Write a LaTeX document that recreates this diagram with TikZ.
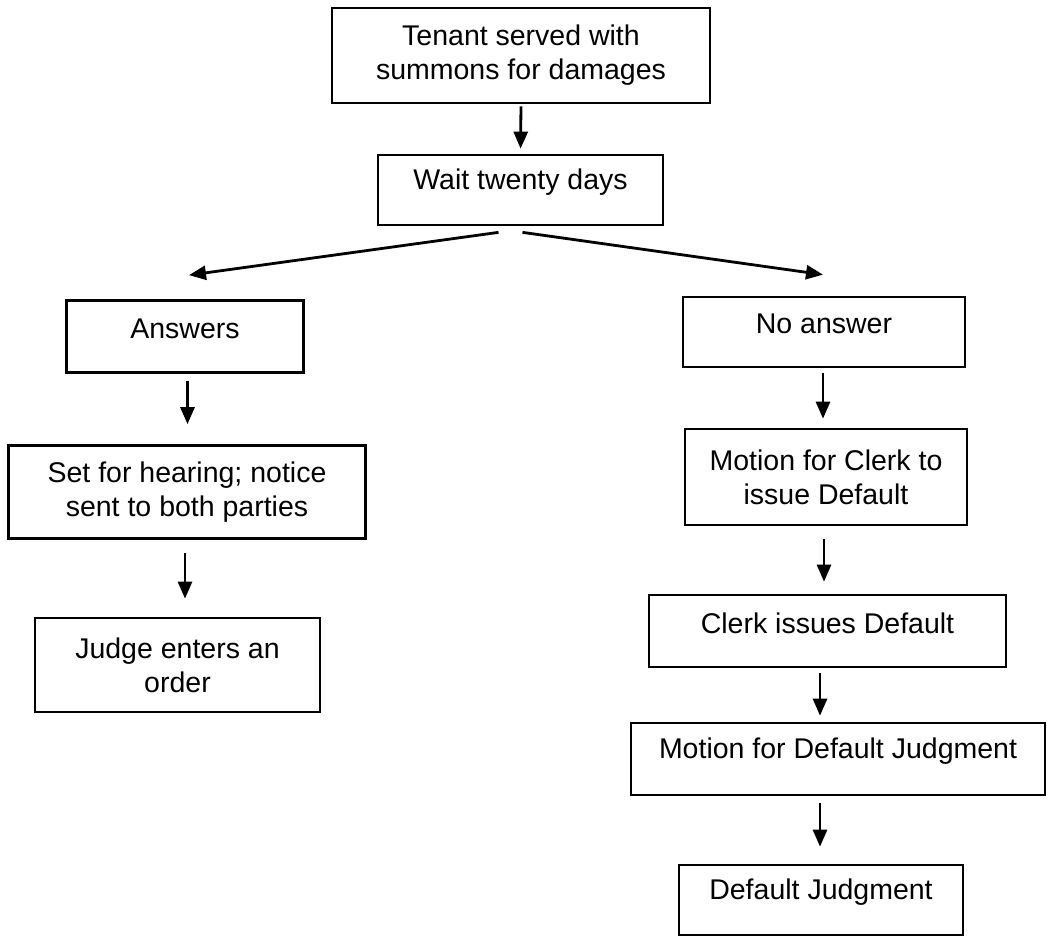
\documentclass[tikz,border=0pt]{standalone}
\usepackage{fontspec}
\setmainfont{Liberation Sans}
\usetikzlibrary{arrows.meta}
\tikzset{
  box/.style={draw, line width=2.7pt, inner sep=0pt, align=center,
    font=\fontsize{28.5}{34}\selectfont},
  arr/.style={line width=2.8pt, -{Triangle[length=17pt,width=14pt]}},
}
\newcommand{\up}[1]{\raisebox{8pt}[\height][\depth]{#1}}
\begin{document}
\begin{tikzpicture}[x=1pt,y=-1pt]
\useasboundingbox (0,0) rectangle (1049,937);
\node[box, minimum width=378pt, minimum height=95pt] (t1) at (521,55.5) {Tenant served with\\summons for damages};
\node[box, minimum width=285pt, minimum height=70pt] (t2) at (520.5,190) {\up{Wait twenty days}};
\node[box, minimum width=237pt, minimum height=72pt] (ans) at (185,336.5) {\up{Answers}};
\node[box, minimum width=357pt, minimum height=93pt] (set) at (187,492) {Set for hearing; notice\\sent to both parties};
\node[box, minimum width=285pt, minimum height=94pt] (judge) at (177.5,665) {Judge enters an\\order};
\node[box, minimum width=282pt, minimum height=70pt] (noans) at (824,332) {\up{No answer}};
\node[box, minimum width=282pt, minimum height=96pt] (mc) at (826,477) {Motion for Clerk to\\issue Default};
\node[box, minimum width=357pt, minimum height=72pt] (cid) at (827.5,631) {\up{Clerk issues Default}};
\node[box, minimum width=414pt, minimum height=72pt] (mdj) at (838,759) {\up{Motion for Default Judgment}};
\node[box, minimum width=284pt, minimum height=70pt] (dj) at (821,900) {\up{Default Judgment}};
% top connector
\draw[arr, shorten <=2pt, shorten >=5pt] (t1.south) -- (t2.north);
% split
\coordinate (sl) at ([xshift=-22pt,yshift=-6pt]t2.south);
\coordinate (sr) at ([xshift=2pt,yshift=-6pt]t2.south);
\coordinate (al) at ([xshift=4pt,yshift=24pt]ans.north);
\coordinate (ar) at ([xshift=-1pt,yshift=21pt]noans.north);
\draw[arr] (sl) -- (al);
\draw[arr] (sr) -- (ar);
% left column
\draw[arr, shorten <=7pt, shorten >=20pt] ([xshift=2.5pt]ans.south) -- ([xshift=2.5pt]ans.south |- set.north);
\draw[arr, shorten <=13pt, shorten >=18pt] ([xshift=-2pt]set.south) -- ([xshift=-2pt]set.south |- judge.north);
% right column
\draw[arr, shorten <=5pt, shorten >=9pt] ([xshift=-1pt]noans.south) -- ([xshift=-1pt]noans.south |- mc.north);
\draw[arr, shorten <=13pt, shorten >=12pt] ([xshift=-2pt]mc.south) -- ([xshift=-2pt]mc.south |- cid.north);
\draw[arr, shorten <=5pt, shorten >=6pt] ([xshift=-7.5pt]cid.south) -- ([xshift=-7.5pt]cid.south |- mdj.north);
\draw[arr, shorten <=7pt, shorten >=17pt] ([xshift=-18pt]mdj.south) -- ([xshift=-18pt]mdj.south |- dj.north);
\end{tikzpicture}
\end{document}
